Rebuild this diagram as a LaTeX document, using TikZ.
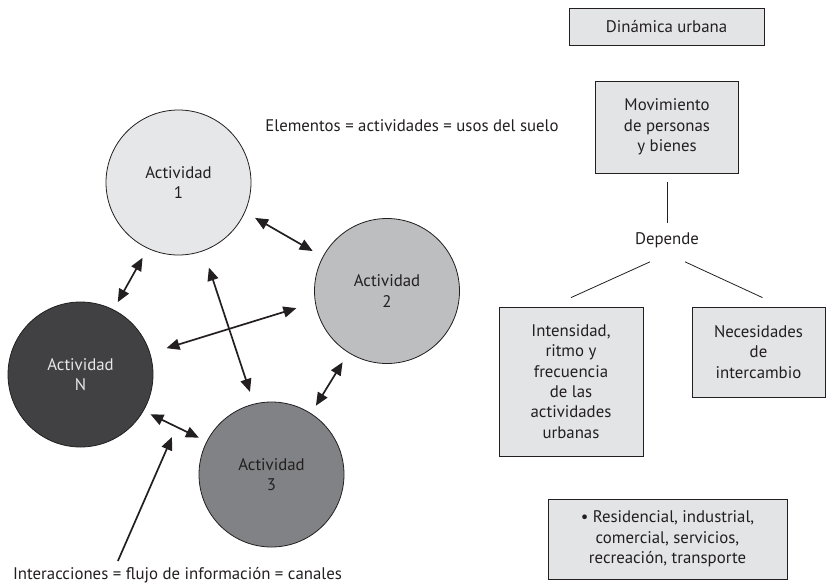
\documentclass[tikz,border=0pt]{standalone}
\usepackage{fontspec}
\setmainfont{PT Sans}
\usetikzlibrary{arrows.meta}

\definecolor{ink}{HTML}{231F20}
\definecolor{act_one}{HTML}{E6E7E8}
\definecolor{act_two}{HTML}{BCBEC0}
\definecolor{act_three}{HTML}{808285}
\definecolor{act_n}{HTML}{414042}
\definecolor{box_fill}{HTML}{E3E4E5}

\begin{document}
\begin{tikzpicture}[x=1pt,y=-1pt,
    main_font/.style={font=\fontsize{16.8}{20.4}\selectfont,text=ink},
    act_node/.style={circle,draw=ink,line width=0.8pt,minimum size=145pt,inner sep=0pt,align=center,main_font},
    box_node/.style={draw=ink,fill=box_fill,line width=0.8pt,inner sep=0pt,align=center,main_font},
    txt_node/.style={inner sep=0pt,main_font},
    link/.style={{Triangle[length=13pt,width=11pt]}-{Triangle[length=13pt,width=11pt]},line width=1.7pt,draw=ink},
    pointer/.style={-{Triangle[length=13pt,width=11pt]},line width=1.7pt,draw=ink}]

    \useasboundingbox (0,0) rectangle (826,586);

    % activities
    \node[act_node,fill=act_one] (1) at (178.5,182.5) {Actividad\\1};
    \node[act_node,fill=act_two] (2) at (387,291) {Actividad\\2};
    \node[act_node,fill=act_three] (3) at (271.5,474.5) {Actividad\\3};
    \node[act_node,fill=act_n,text=act_one] (N) at (80.5,374.5) {Actividad\\N};

    \draw[link,shorten <=11.5pt,shorten >=11.5pt] (1.-24) -- (2.152);
    \draw[link,shorten <=10.5pt,shorten >=8.5pt] (1.245) -- (N.63);
    \draw[link,shorten <=17pt,shorten >=19.5pt] (N.17) -- (2.189);
    \draw[link,shorten <=17.5pt,shorten >=12.5pt] (1.290) -- (3.104);
    \draw[link,shorten <=11pt,shorten >=9pt] (2.238) -- (3.57);
    \draw[link,shorten <=7.5pt,shorten >=8.5pt] (N.-30) -- (3.153);

    \node[txt_node] (elementos) at (412,126) {Elementos = actividades = usos del suelo};
    \node[txt_node] (interacciones) at (177.5,575.5) {Interacciones = flujo de información = canales};
    \coordinate (canal) at (172,437);
    \draw[pointer] ([shift={(105pt,6.5pt)}]interacciones.north west) -- (canal);

    % urban dynamics
    \node[box_node,minimum width=195pt,minimum height=37pt] (dinamica) at (666.5,26.5) {Dinámica urbana};
    \node[box_node,minimum width=143pt,minimum height=92pt] (movimiento) at (667,127) {Movimiento\\de personas\\y bienes};
    \node[txt_node] (depende) at (667,240) {Depende};
    \node[box_node,minimum width=144pt,minimum height=149pt] (intensidad) at (571,381.5) {Intensidad,\\ritmo y\\frecuencia\\de las\\actividades\\urbanas};
    \node[box_node,minimum width=133pt,minimum height=90pt] (necesidades) at (758.5,352) {Necesidades\\de\\intercambio};
    \node[box_node,minimum width=239pt,minimum height=80pt] (usos) at (667.5,539) {• Residencial, industrial,\\comercial, servicios,\\recreación, transporte};

    \draw[line width=0.8pt,draw=ink,shorten <=9pt,shorten >=9pt] (movimiento.south) -- (depende.north);
    \draw[line width=0.8pt,draw=ink] ([shift={(-17pt,-14pt)}]depende.south) -- ([yshift=9pt]intensidad.north);
    \draw[line width=0.8pt,draw=ink] ([shift={(18pt,-14pt)}]depende.south) -- ([shift={(4pt,9pt)}]necesidades.north);
\end{tikzpicture}
\end{document}
